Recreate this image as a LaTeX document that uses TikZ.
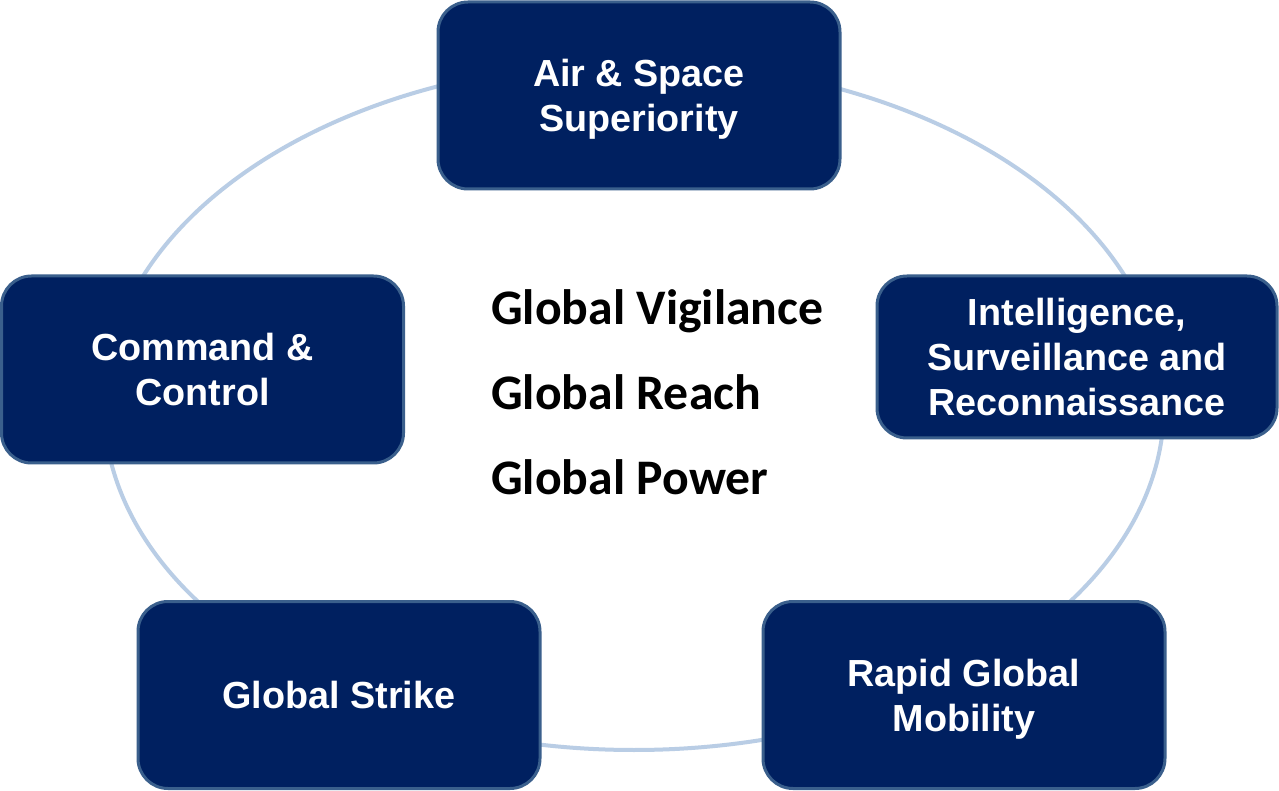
\documentclass[tikz,border=0pt]{standalone}
\usepackage{fontspec}
\setmainfont{Liberation Sans}
\newfontfamily\calib{Carlito}
\definecolor{boxfill}{HTML}{002060}
\definecolor{boxline}{HTML}{3A5F8C}
\definecolor{ringcol}{HTML}{B9CDE5}
\begin{document}
\begin{tikzpicture}[x=0.75pt,y=-0.75pt,
  capbox/.style={draw=boxline, line width=2.25pt, fill=boxfill, rounded corners=22.5pt,
    minimum width=301.5pt, minimum height=140.25pt, inner sep=0pt, align=center,
    text depth=0pt, text=white, font=\fontsize{28.3}{33.75}\selectfont\bfseries},
  coretext/.style={anchor=base west, inner sep=0pt, font=\calib\fontsize{37.3}{40}\selectfont\bfseries}]
\useasboundingbox (0,0) rectangle (1279,791);
\fill[white] (0,0) rectangle (1279,791);
\node[draw=none, inner sep=0pt] (ringc) at (634,406) {};
\draw[ringcol, line width=3pt] (ringc) ellipse [x radius=530, y radius=344];
\node[capbox] (air) at (639,95.5) {Air \& Space\\Superiority};
\node[capbox] (cc) at (202.5,369.5) {Command \&\\Control};
\node[capbox, minimum width=300pt, minimum height=121.5pt] (isr) at (1077,357) {Intelligence,\\Surveillance and\\Reconnaissance};
\node[capbox] (gs) at (339,695) {Global Strike};
\node[capbox] (rgm) at (964,695) {Rapid Global\\Mobility};
\node[coretext] (gv) at (491,325) {Global Vigilance};
\node[coretext] (gr) at (491,410) {Global Reach};
\node[coretext] (gp) at (491,495) {Global Power};
\end{tikzpicture}
\end{document}
